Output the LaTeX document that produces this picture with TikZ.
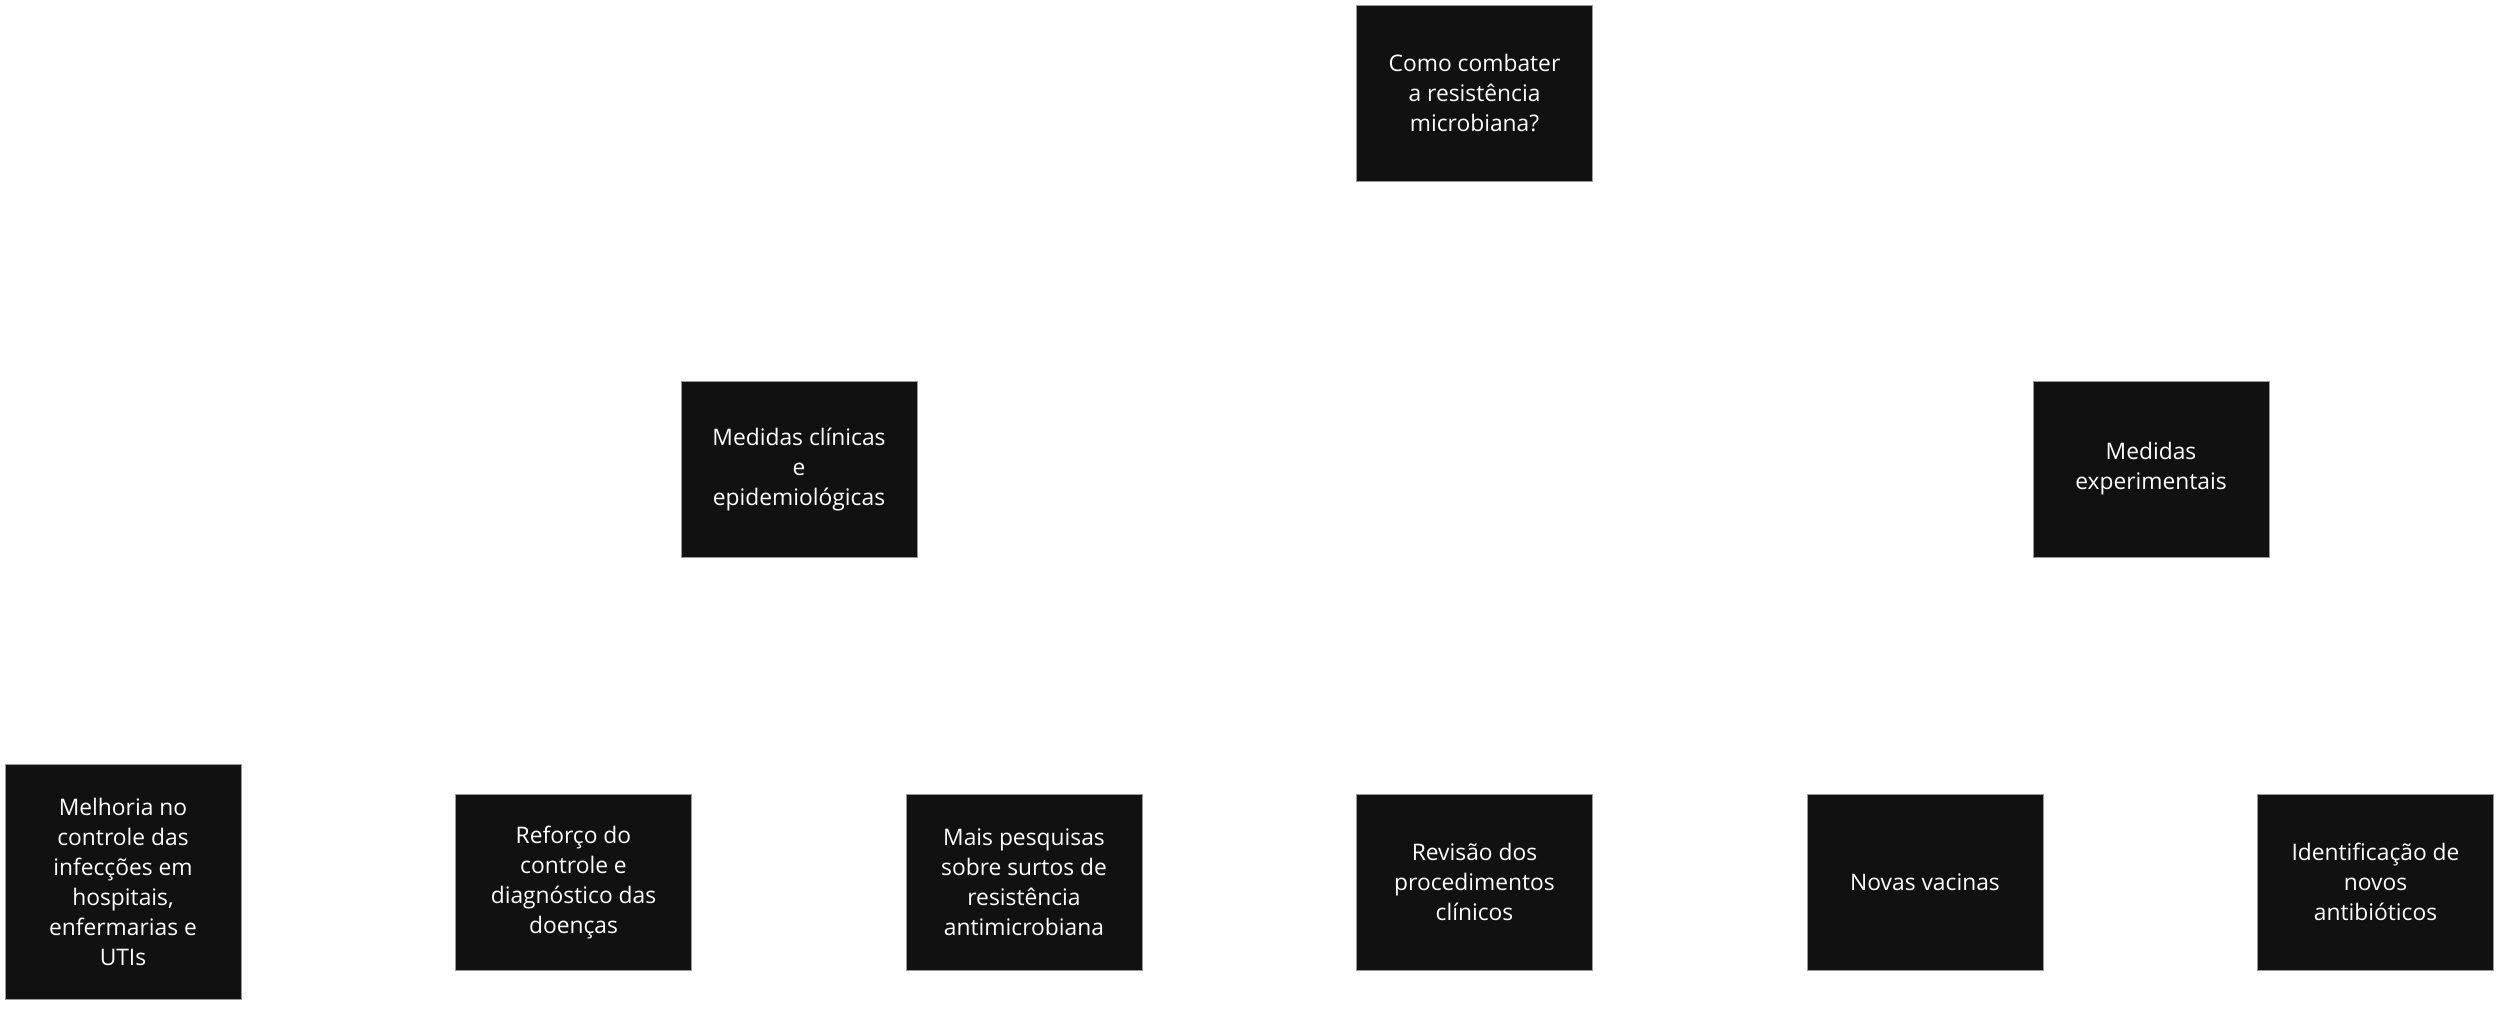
\documentclass[tikz,border=0pt]{standalone}
\usepackage{fontspec}
\setmainfont{Open Sans}
\usepackage{tikz}
\usetikzlibrary{positioning}
\definecolor{boxfill}{HTML}{111111}
\definecolor{boxline}{HTML}{9A9A9A}

\begin{document}
\begin{tikzpicture}[
  x=0.5pt, y=-0.5pt,
  node distance=107.25pt,
  box/.style={draw=boxline, line width=0.5pt, fill=boxfill, text=white,
    minimum width=118pt, minimum height=88pt, inner sep=2pt, outer sep=0pt,
    align=center, font=\fontsize{11.4}{15}\selectfont}
]
  \useasboundingbox (0,0) rectangle (2500,1008);

  % bottom row, left to right
  \node[box, minimum height=117.5pt] (melhoria) at (123,882)
    {Melhoria no\\controle das\\infecções em\\hospitais,\\enfermarias e\\UTIs};
  \node[box, right=of melhoria] (reforco)
    {Reforço do\\controle e\\diagnóstico das\\doenças};
  \node[box, right=of reforco] (pesquisas)
    {Mais pesquisas\\sobre surtos de\\resistência\\antimicrobiana};
  \node[box, right=of pesquisas] (revisao)
    {Revisão dos\\procedimentos\\clínicos};
  \node[box, right=of revisao] (vacinas) {Novas vacinas};
  \node[box, right=of vacinas] (antibioticos)
    {Identificação de\\novos\\antibióticos};

  % upper rows
  \node[box] (clinicas) at (799,469)
    {Medidas clínicas\\e\\epidemiológicas};
  \node[box] (experimentais) at (2151,469) {Medidas\\experimentais};
  \node[box, above=306.5pt of revisao] (pergunta)
    {Como combater\\a resistência\\microbiana?};
\end{tikzpicture}
\end{document}
